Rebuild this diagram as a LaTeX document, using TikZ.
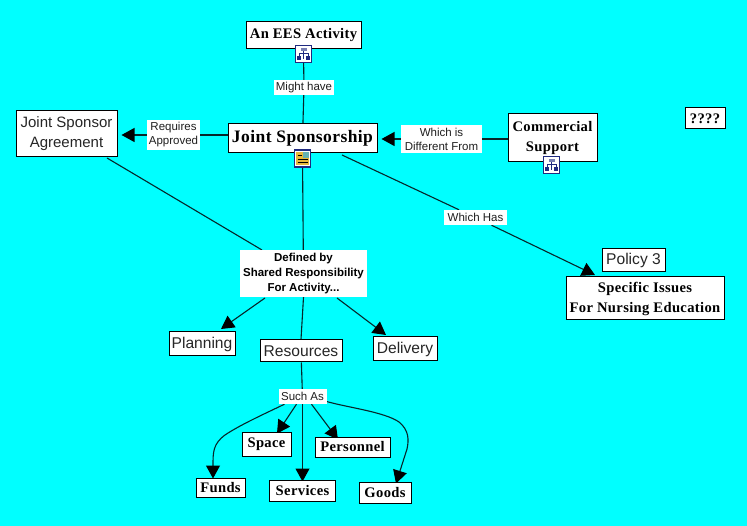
\documentclass[tikz,border=0pt]{standalone}
\usepackage{fontspec}
\setmainfont{Liberation Serif}
\newfontfamily\lsans{Liberation Sans}
\newfontfamily\spaced[LetterSpace=2.4,BoldFont={Liberation Serif Bold}]{Liberation Serif}
\usetikzlibrary{arrows.meta,backgrounds}
\definecolor{bgcyan}{HTML}{00FFFF}
\definecolor{iconblue}{HTML}{1F2A80}
\definecolor{icongold}{HTML}{E8B93A}
\definecolor{linkdark}{HTML}{06262A}
\tikzset{
  x=1pt,y=-1pt,
  box/.style={draw=black,line width=1pt,fill=white,inner sep=0pt,align=center,text=black},
  serif/.style={box,font=\spaced\fontsize{14.6}{20}\selectfont\bfseries},
  thin/.style={box,text=black!85,font=\lsans\fontsize{15.6}{20.5}\selectfont},
  lab/.style={fill=white,inner sep=0pt,align=center,text=black!88,font=\lsans\fontsize{11.5}{14}\selectfont},
  link/.style={draw=linkdark,line width=1.1pt},
  arrowlink/.style={link,-{Triangle[length=13pt,width=14pt,color=black]}},
  iconbox/.style={draw=iconblue,line width=1pt,fill=white,inner sep=0pt,minimum width=16pt,minimum height=17pt},
}
\newcommand{\treeicon}[1]{%
  \fill[iconblue!60!white] ([shift={(-3,-6)}]#1.center) rectangle ([shift={(3,-3)}]#1.center);
  \draw[iconblue,line width=.7pt] ([shift={(0,-3)}]#1.center) -- ([shift={(0,-1)}]#1.center)
    ([shift={(-4.5,2)}]#1.center) -- ([shift={(-4.5,-1)}]#1.center) -- ([shift={(4.5,-1)}]#1.center) -- ([shift={(4.5,2)}]#1.center)
    ([shift={(0,-1)}]#1.center) -- ([shift={(0,5)}]#1.center);
  \fill[iconblue] ([shift={(-6.5,2)}]#1.center) rectangle ([shift={(-2.5,6)}]#1.center);
  \fill[iconblue] ([shift={(2.5,2)}]#1.center) rectangle ([shift={(6.5,6)}]#1.center);
}
\newcommand{\docicon}[1]{%
  \fill[icongold] ([shift={(-6.5,-6.5)}]#1.center) rectangle ([shift={(6.5,6.5)}]#1.center);
  \draw[black,line width=.7pt] ([shift={(-5,-3)}]#1.center) -- ([shift={(-1,-3)}]#1.center)
    ([shift={(-5,1)}]#1.center) -- ([shift={(5,1)}]#1.center)
    ([shift={(-5,4)}]#1.center) -- ([shift={(5,4)}]#1.center);
  \fill[teal!60!white] ([shift={(0,-6.5)}]#1.center) rectangle ([shift={(6.5,-0.5)}]#1.center);
}
\begin{document}
\begin{tikzpicture}
\useasboundingbox (0,0) rectangle (747,526);
% boxes
\node[serif,minimum width=115pt,minimum height=27pt] (ees) at (303.5,35.5) {An EES Activity};
\node[serif,minimum width=149pt,minimum height=29pt,font=\spaced\fontsize{17.5}{20}\selectfont\bfseries] (joint) at (302.5,138.5) {Joint Sponsorship};
\node[thin,minimum width=101pt,minimum height=46pt,font=\lsans\fontsize{15}{20}\selectfont] (agree) at (66.5,134) {Joint Sponsor\\Agreement};
\node[serif,minimum width=89pt,minimum height=48pt] (comm) at (552.5,138) {Commercial\\Support};
\node[serif,minimum width=40pt,minimum height=21pt] (q) at (705,118.5) {????};
\node[thin,minimum width=63pt,minimum height=23pt] (policy) at (633.5,260.5) {Policy 3};
\node[serif,minimum width=158pt,minimum height=43pt] (spec) at (645,298.5) {Specific Issues\\For Nursing Education};
\node[lab,minimum width=127pt,minimum height=47pt,text=black,font=\lsans\bfseries\fontsize{11.5}{15}\selectfont] (def) at (303.5,273.5) {Defined by\\Shared Responsibility\\For Activity...};
\node[thin,minimum width=66pt,minimum height=24pt] (plan) at (202,344) {Planning};
\node[thin,minimum width=82pt,minimum height=22pt] (res) at (301,351) {Resources};
\node[thin,minimum width=64pt,minimum height=24pt] (deliv) at (405,349) {Delivery};
\node[serif,minimum width=49pt,minimum height=24pt] (space) at (266.5,444) {Space};
\node[serif,minimum width=75pt,minimum height=20pt] (pers) at (352.5,447) {Personnel};
\node[serif,minimum width=49pt,minimum height=19pt] (funds) at (220.5,487.5) {Funds};
\node[serif,minimum width=66pt,minimum height=21pt] (serv) at (302.5,490.5) {Services};
\node[serif,minimum width=52pt,minimum height=21pt] (goods) at (385,492.5) {Goods};
% labels
\node[lab,minimum width=60pt,minimum height=15pt] (might) at (304,87.5) {Might have};
\node[lab,minimum width=53pt,minimum height=30pt] (req) at (173.5,135) {Requires\\Approved};
\node[lab,minimum width=81pt,minimum height=28pt] (diff) at (441.5,139) {Which is\\Different From};
\node[lab,minimum width=63pt,minimum height=15pt] (has) at (475.5,217.5) {Which Has};
\node[lab,minimum width=48pt,minimum height=15pt] (such) at (302.5,396.5) {Such As};
% icons
\node[iconbox] (i1) at (303.5,54) {};
\node[iconbox,line width=1.4pt] (i2) at (302.5,158.5) {};
\node[iconbox] (i3) at (551.5,165.5) {};
\treeicon{i1}
\treeicon{i3}
\docicon{i2}
% free ends
\coordinate (jEnd) at (342,155);
\coordinate (hasEnd) at (595,275);
\coordinate (agEnd) at (107,158);
\coordinate (defL) at (262,250);
\coordinate (defBL) at (265,298);
\coordinate (defBR) at (337,298);
\coordinate (plEnd) at (221,329);
\coordinate (deEnd) at (386,335);
\begin{pgfonlayer}{background}
\fill[bgcyan] (0,0) rectangle (747,526);
\draw[link] (i1) -- (might);
\draw[link] (might) -- (joint);
\draw[link] (joint.west |- req.east) -- (req);
\draw[arrowlink,shorten >=4pt] (req.west) -- (agree.east |- req.west);
\draw[link] (comm.west |- diff.east) -- (diff);
\draw[arrowlink,shorten >=4pt] (diff) -- (joint.east |- diff.west);
\draw[link] (i2) -- (def);
\draw[link] (agEnd) -- (defL);
\draw[link] (jEnd) -- (has);
\draw[arrowlink] (has) -- (hasEnd);
\draw[arrowlink] (defBL) -- (plEnd);
\draw[arrowlink] (defBR) -- (deEnd);
\draw[link] (def.south) -- (res.north);
\draw[link] (res) -- (such);
\draw[arrowlink] ([xshift=-18pt]such.south) .. controls (262,415) and (240,425) .. (225,435) .. controls (213,444) and (213,452) .. ([xshift=-7.5pt,yshift=-1pt]funds.north);
\draw[arrowlink] ([xshift=-6pt]such.south) -- ([xshift=10.5pt,yshift=-2pt]space.north);
\draw[arrowlink] (such.south) -- ([yshift=-2pt]serv.north);
\draw[arrowlink] ([xshift=9pt]such.south) -- ([xshift=-14.5pt,yshift=-3pt]pers.north);
\draw[arrowlink] (such.east) ++(0,5) .. controls (345,407) and (385,412) .. (399,422) .. controls (409,430) and (409,440) .. (407,449) -- ([xshift=11pt,yshift=-2pt]goods.north);
\end{pgfonlayer}
\end{tikzpicture}
\end{document}
